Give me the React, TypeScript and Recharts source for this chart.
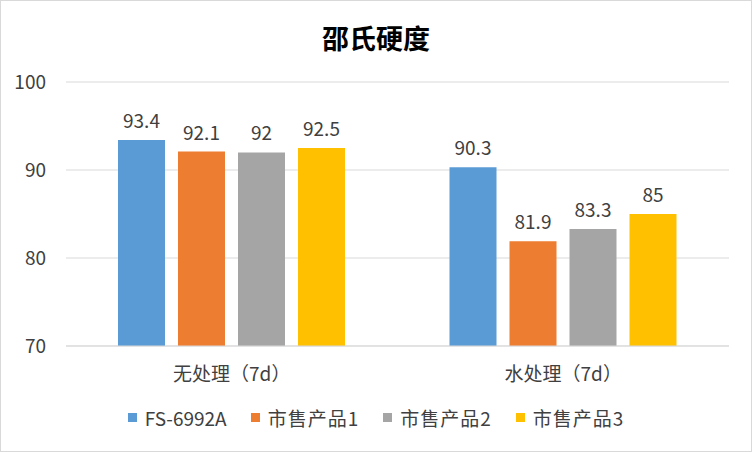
import { BarChart, Bar, XAxis, YAxis, CartesianGrid, Legend, LabelList } from 'recharts';

const categories = ['无处理（7d）', '水处理（7d）'];
const seriesNames = ['FS-6992A', '市售产品1', '市售产品2', '市售产品3'];
const fs6992a = [93.4, 90.3];
const product1 = [92.1, 81.9];
const product2 = [92, 83.3];
const product3 = [92.5, 85];
const yTicks = [70, 80, 90, 100];

const colors = ['#5B9BD5', '#ED7D31', '#A5A5A5', '#FFC000'];
const keys = ['s0', 's1', 's2', 's3'];
const seriesValues = [fs6992a, product1, product2, product3];

const data = categories.map((name, i) => {
  const row: Record<string, string | number> = { name };
  seriesValues.forEach((vals, j) => {
    row[keys[j]] = vals[i];
  });
  return row;
});

const font = '"Noto Sans CJK SC", "Noto Sans", sans-serif';

const renderLegend = () => (
  <div style={{ display: 'flex', justifyContent: 'center', fontFamily: font, fontSize: 19, color: '#404040' }}>
    {seriesNames.map((n, i) => (
      <div key={n} style={{ display: 'flex', alignItems: 'center', margin: '0 12px' }}>
        <span style={{ width: 9, height: 9, background: colors[i], display: 'inline-block', marginRight: 8 }} />
        <span style={{ letterSpacing: i === 0 ? 0 : 1 }}>{n}</span>
      </div>
    ))}
  </div>
);

const App = () => {
  return (
    <div style={{ position: 'absolute', left: 0, top: 0, width: 752, height: 452, background: '#fff', boxSizing: 'border-box', border: '1px solid #d9d9d9', fontFamily: font }}>
      <div style={{ position: 'absolute', top: 23, width: '100%', textAlign: 'center', fontSize: 27, lineHeight: 1, fontWeight: 'bold', color: '#000' }}>
        邵氏硬度
      </div>
      <BarChart
        width={750}
        height={450}
        data={data}
        margin={{ top: 81, right: 22, left: 0, bottom: 73 }}
        barGap={13}
        barCategoryGap={52}
      >
        <CartesianGrid vertical={false} stroke="#d9d9d9" />
        <XAxis
          dataKey="name"
          axisLine={{ stroke: '#d9d9d9' }}
          tickLine={false}
          height={32}
          tick={{ fill: '#404040', fontSize: 19, fontFamily: font }}
          tickMargin={16}
        />
        <YAxis
          domain={[70, 100]}
          ticks={yTicks}
          axisLine={false}
          tickLine={false}
          width={65}
          tick={{ fill: '#404040', fontSize: 19, fontFamily: font }}
          tickMargin={14}
        />
        <Legend
          layout="horizontal"
          verticalAlign="middle"
          content={renderLegend}
          wrapperStyle={{ top: 403, left: 0, width: 750 }}
        />
        {keys.map((k, i) => (
          <Bar key={k} dataKey={k} name={seriesNames[i]} fill={colors[i]} barSize={47} isAnimationActive={false}>
            <LabelList dataKey={k} position="top" offset={12} fill="#404040" fontSize={19} fontFamily={font} />
          </Bar>
        ))}
      </BarChart>
    </div>
  );
};

export default App;
